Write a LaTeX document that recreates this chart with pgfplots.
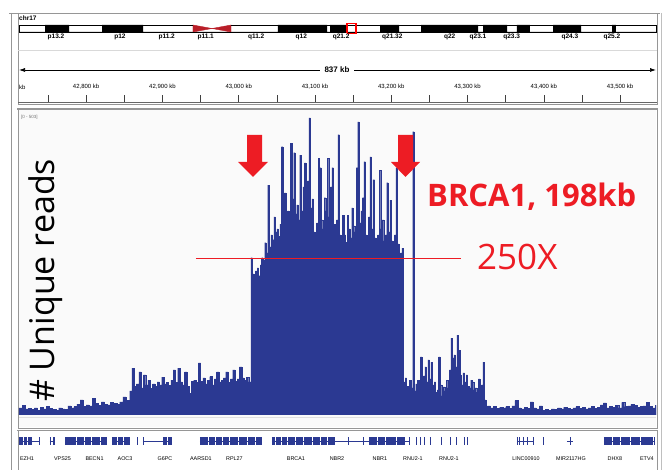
\documentclass[border=0pt]{standalone}
\usepackage{pgfplots}
\pgfplotsset{compat=1.18}
\usetikzlibrary{arrows.meta}
\usepackage{fontspec}
\setmainfont{Liberation Sans}
\newfontfamily\osans{Open Sans}
\definecolor{igvblue}{RGB}{43,57,146}
\definecolor{annred}{RGB}{237,28,36}
\definecolor{cenred}{RGB}{185,30,40}
\definecolor{framegray}{RGB}{150,150,150}
\tikzset{
  bandlab/.style={font=\bfseries\fontsize{6.5}{6.5}\selectfont, inner sep=0},
  rulelab/.style={font=\fontsize{6}{6}\selectfont, inner sep=0},
  genelab/.style={font=\fontsize{5.4}{5.4}\selectfont, inner sep=0},
}

\begin{document}
\begin{tikzpicture}[x=1pt,y=1pt]
\path[use as bounding box] (0,0) rectangle (665,470);

% ---- window frames
\fill[black!2] (18,360) rectangle (656,43);
\draw[framegray, line width=0.8pt] (9,457) -- (660,457);
\draw[framegray, line width=0.8pt] (11,457) -- (11,0);
\draw[framegray, line width=0.6pt] (18,457) -- (18,366) -- (657,366) -- (657,457);
\draw[black!15] (18,420) -- (657,420);
\draw[black!60, line width=0.6pt] (18,368) -- (657,368);
\draw[framegray, line width=1.4pt] (17,361) -- (658,361);
\draw[framegray, line width=0.6pt] (18,361) -- (18,42) -- (657,42) -- (657,361);
\draw[black!12] (19,53) -- (656,53);
\draw[framegray, line width=0.8pt] (17,40) -- (658,40);
\draw[framegray, line width=0.6pt] (18,40) -- (18,0);
\draw[framegray, line width=0.6pt] (657,40) -- (657,0);
\draw[black!25] (661,457) -- (661,0);

% ---- chromosome ideogram
\node[anchor=west, font=\bfseries\fontsize{6.5}{6.5}\selectfont, inner sep=0] at (19,451.5) {chr17};
\begin{axis}[at={(19pt,438pt)}, anchor=south west, width=637pt, height=7pt,
  scale only axis, xmin=0, xmax=83.26, ymin=0, ymax=1, hide axis, clip=false]
\addplot[const plot, fill=black, draw=none] coordinates {
(0,0) (3.40,1) (6.54,0) (10.85,1) (16.21,0) (33.85,1) (40.26,0) (40.65,1) (42.87,0)
(47.19,1) (49.67,0) (52.55,1) (60.00,0) (60.65,1) (63.79,0) (65.09,1) (66.79,0)
(69.80,1) (73.46,0) (77.51,1) (78.03,0) (83.26,0)} \closedcycle;
\addplot[fill=cenred, draw=cenred] coordinates {(22.74,0) (22.74,1) (25.23,0.5) (22.74,0)};
\addplot[fill=cenred, draw=cenred] coordinates {(27.71,0) (27.71,1) (25.23,0.5) (27.71,0)};
\addplot[black, line width=0.6pt] coordinates {(22.74,1) (0,1) (0,0) (83.26,0) (83.26,1) (27.71,1)};
\addplot[red, line width=1.2pt] coordinates {(42.87,-0.2) (42.87,1.2) (44.05,1.2) (44.05,-0.2) (42.87,-0.2)};
\foreach \p/\t in {4.84/p13.2, 13.2/p12, 19.3/p11.2, 24.4/p11.1, 31.0/q11.2, 36.9/q12,
  42.1/q21.2, 48.8/q21.32, 56.3/q22, 60.0/q23.1, 64.4/q23.3, 72.0/q24.3, 77.5/q25.2}
  {\edef\tmp{\noexpand\node[bandlab] at (axis cs:\p,-0.75) {\t};}\tmp}
\end{axis}

% ---- ruler
\draw[{Latex[length=6pt,width=4pt]}-{Latex[length=6pt,width=4pt]}, line width=0.7pt] (19,400) -- (656,400);
\node[fill=white, inner xsep=5pt, font=\bfseries\fontsize{8}{8}\selectfont] at (337,400) {837 kb};
\begin{axis}[at={(19pt,368pt)}, anchor=south west, width=637pt, height=9pt,
  scale only axis, xmin=42712, xmax=43547, ymin=0, ymax=1,
  axis x line*=bottom, axis y line=none, scaled x ticks=false,
  xtick={42750,42800,...,43500}, xticklabels={}, tick align=inside,
  major tick length=7pt, x axis line style={-, draw=none},
  xtick style={black!75, line width=0.7pt}, clip=false]
\foreach \p/\t in {42800/{42,800 kb}, 42900/{42,900 kb}, 43000/{43,000 kb}, 43100/{43,100 kb},
  43200/{43,200 kb}, 43300/{43,300 kb}, 43400/{43,400 kb}, 43500/{43,500 kb}}
  {\edef\tmp{\noexpand\node[rulelab] at (axis cs:\p,1.67) {\t};}\tmp}
\node[rulelab, anchor=west] at (axis cs:42712,1.67) {kb};
\end{axis}

% ---- coverage track
\node[anchor=west, font=\fontsize{4.5}{4.5}\selectfont, text=black!55, inner sep=0] at (21,353) {[0 - 503]};
\begin{axis}[at={(19pt,55pt)}, anchor=south west, width=637pt, height=302pt,
  scale only axis, xmin=42712, xmax=43547, ymin=0, ymax=503, hide axis, clip=true]
\addplot[const plot, fill=igvblue, draw=igvblue, line width=0.2pt] coordinates {
(42712,12) (42716,16) (42720,10) (42724,11) (42728,9) (42732,12) (42736,8) (42740,13)
(42744,10) (42748,14) (42752,11) (42756,9) (42760,8) (42764,12) (42768,10) (42772,9)
(42776,15) (42780,12) (42784,14) (42788,18) (42792,25) (42796,14) (42800,17) (42804,15)
(42808,28) (42812,19) (42816,16) (42820,22) (42824,18) (42828,17) (42832,21) (42836,19)
(42840,18) (42844,22) (42848,30) (42852,24) (42856,22)
(42857,40) (42860,78) (42863,48) (42866,52) (42869,72) (42872,45) (42875,67) (42878,50)
(42881,58) (42884,44) (42887,52) (42890,48) (42893,55) (42896,50) (42899,63) (42902,52)
(42905,54) (42908,49) (42911,58) (42914,75) (42917,54) (42920,78) (42923,55) (42926,50)
(42929,72) (42932,48) (42935,36) (42938,56) (42941,58) (42944,54) (42947,87) (42950,56)
(42953,62) (42956,52) (42959,58) (42962,64) (42965,50) (42968,60) (42971,72) (42974,55)
(42977,58) (42980,62) (42983,72) (42986,54) (42989,60) (42992,75) (42995,56) (42998,60)
(43001,80) (43004,62) (43007,58) (43010,63) (43013,55)
(43016,262) (43018,235) (43020,222) (43022,240) (43024,245) (43026,232) (43028,250) (43030,262)
(43032,258) (43034,287) (43036,270) (43038,383) (43040,280) (43042,300) (43044,292) (43046,330)
(43048,305) (43050,310) (43052,298) (43054,318) (43056,447) (43058,322) (43060,370) (43062,330)
(43064,340) (43066,318) (43068,453) (43070,360) (43072,437) (43074,335) (43076,350) (43078,325)
(43080,433) (43082,340) (43084,380) (43086,420) (43088,335) (43090,390) (43092,495) (43094,345)
(43096,360) (43098,305) (43100,275) (43102,320) (43104,428) (43106,412) (43108,325) (43110,310)
(43112,362) (43114,340) (43116,428) (43118,330) (43120,380) (43122,412) (43124,318) (43126,283)
(43128,325) (43130,467) (43132,300) (43134,270) (43136,333) (43138,300) (43140,288) (43142,333)
(43144,310) (43146,295) (43148,345) (43150,315) (43152,305) (43154,412) (43156,488) (43158,320)
(43160,340) (43162,362) (43164,422) (43166,300) (43168,262) (43170,330) (43172,430) (43174,310)
(43176,392) (43178,295) (43180,237) (43182,300) (43184,408) (43186,310) (43188,325) (43190,290)
(43192,300) (43194,387) (43196,305) (43198,358) (43200,290) (43202,278) (43204,300) (43206,412)
(43208,285) (43210,247) (43212,270) (43214,278)
(43216,55) (43218,62) (43220,48) (43222,35) (43224,58) (43226,45) (43228,472) (43230,40)
(43232,52) (43234,58) (43236,48) (43238,97) (43240,62) (43242,65) (43244,80) (43246,55)
(43248,92) (43250,60) (43252,88) (43254,50) (43256,55) (43258,38) (43260,42) (43262,97)
(43264,50) (43266,32) (43268,47) (43270,40) (43272,58) (43274,45) (43276,75) (43278,128)
(43280,95) (43282,100) (43284,80) (43286,133) (43288,108) (43290,67) (43292,50) (43294,70)
(43296,55) (43298,67) (43300,48) (43302,45) (43304,58) (43306,55) (43308,42) (43310,45)
(43312,38) (43314,60) (43316,48) (43318,50) (43320,88) (43322,25) (43324,13)
(43326,15) (43330,12) (43334,14) (43338,11) (43342,13) (43346,12) (43350,14) (43354,11)
(43358,15) (43362,24) (43366,12) (43370,10) (43374,13) (43378,11) (43382,22) (43386,12)
(43390,10) (43394,15) (43398,8) (43402,9) (43406,8) (43410,10) (43414,9) (43418,12)
(43422,10) (43426,13) (43430,11) (43434,9) (43438,12) (43442,14) (43446,11) (43450,13)
(43454,10) (43458,12) (43462,14) (43466,11) (43470,13) (43474,17) (43478,20) (43482,12)
(43486,14) (43490,13) (43494,16) (43498,12) (43502,21) (43506,14) (43510,15) (43514,18)
(43518,16) (43522,13) (43526,14) (43530,15) (43534,21) (43538,14) (43542,12) (43546,16)
(43547,16)} \closedcycle;
\addplot[annred, line width=1.1pt] coordinates {(42944,260) (43292,260)};
\end{axis}

% ---- annotations
\fill[annred] (247,335) -- (262,335) -- (262,308) -- (268,308) -- (253,293) -- (238,308) -- (247,308) -- cycle;
\fill[annred] (398,335) -- (413,335) -- (413,308) -- (420,308) -- (405.5,293) -- (391,308) -- (398,308) -- cycle;
\node[anchor=base west, inner sep=0, text=annred, font=\osans\bfseries\fontsize{31}{31}\selectfont] at (427,263) {BRCA1, 198kb};
\node[anchor=base west, inner sep=0, text=annred, font=\osans\fontsize{35}{35}\selectfont] at (477,200) {250X};
\node[rotate=90, anchor=base west, inner sep=0, font=\osans\fontsize{34}{34}\selectfont] at (54,68) {\# Unique reads};

% ---- gene track
\begin{axis}[at={(19pt,25pt)}, anchor=south west, width=637pt, height=8pt,
  scale only axis, xmin=42712, xmax=43547, ymin=0, ymax=1, hide axis, clip=false]
% introns
\addplot[igvblue, line width=0.8pt, unbounded coords=jump] coordinates {
(42712,0.5) (42739.5,0.5) (42739.5,nan)
(42752.6,0.5) (42759.2,0.5) (42759.2,nan)
(42772.3,0.5) (42827.3,0.5) (42827.3,nan)
(42833.9,0.5) (42857.5,0.5) (42857.5,nan)
(42874.5,0.5) (42912.5,0.5) (42912.5,nan)
(42949.2,0.5) (43030.5,0.5) (43030.5,nan)
(43043.6,0.5) (43224.4,0.5) (43224.4,nan)
(43364.7,0.5) (43386.9,0.5) (43386.9,nan)
(43430.2,0.5) (43438.1,0.5) (43438.1,nan)
(43478.7,0.5) (43545.6,0.5)};
% exons
\addplot[igvblue, line width=8pt, unbounded coords=jump] coordinates {
(42712,0.5) (42717.2,0.5) (42717.2,nan) (42718.6,0.5) (42722.5,0.5) (42722.5,nan)
(42723.8,0.5) (42729,0.5) (42729,nan) (42738.2,0.5) (42739.5,0.5) (42739.5,nan)
(42752.6,0.5) (42753.9,0.5) (42753.9,nan) (42756.6,0.5) (42759.2,0.5) (42759.2,nan)
(42772.3,0.5) (42786.7,0.5) (42786.7,nan) (42788,0.5) (42797.2,0.5) (42797.2,nan)
(42798.5,0.5) (42806.4,0.5) (42806.4,nan) (42807.7,0.5) (42818.2,0.5) (42818.2,nan)
(42819.5,0.5) (42827.3,0.5) (42827.3,nan)
(42833.9,0.5) (42840.4,0.5) (42840.4,nan) (42841.7,0.5) (42848.3,0.5) (42848.3,nan)
(42849.6,0.5) (42857.5,0.5) (42857.5,nan) (42866.7,0.5) (42868,0.5) (42868,nan)
(42874.5,0.5) (42875.8,0.5) (42875.8,nan) (42900.7,0.5) (42906,0.5) (42906,nan)
(42907.3,0.5) (42912.5,0.5) (42912.5,nan)
(42949.2,0.5) (42959.7,0.5) (42959.7,nan) (42961,0.5) (42968.9,0.5) (42968.9,nan)
(42970.2,0.5) (42978.1,0.5) (42978.1,nan) (42979.4,0.5) (42987.2,0.5) (42987.2,nan)
(42988.5,0.5) (42999,0.5) (42999,nan) (43000.3,0.5) (43010.8,0.5) (43010.8,nan)
(43012.1,0.5) (43021.3,0.5) (43021.3,nan) (43022.6,0.5) (43030.5,0.5) (43030.5,nan)
(43043.6,0.5) (43047.5,0.5) (43047.5,nan) (43048.8,0.5) (43055.4,0.5) (43055.4,nan)
(43056.7,0.5) (43063.2,0.5) (43063.2,nan) (43064.5,0.5) (43073.7,0.5) (43073.7,nan)
(43075,0.5) (43084.2,0.5) (43084.2,nan) (43085.5,0.5) (43096,0.5) (43096,nan)
(43097.3,0.5) (43106.5,0.5) (43106.5,nan) (43107.8,0.5) (43115.7,0.5) (43115.7,nan)
(43117,0.5) (43126.1,0.5) (43126.1,nan) (43143.2,0.5) (43144.6,0.5) (43144.6,nan)
(43162.9,0.5) (43164.2,0.5) (43164.2,nan)
(43170.7,0.5) (43181.2,0.5) (43181.2,nan) (43182.5,0.5) (43191.7,0.5) (43191.7,nan)
(43193,0.5) (43206.1,0.5) (43206.1,nan) (43207.4,0.5) (43217.9,0.5) (43217.9,nan)
(43223.1,0.5) (43224.4,0.5) (43224.4,nan)
(43232.3,0.5) (43233.6,0.5) (43233.6,nan) (43237.6,0.5) (43238.9,0.5) (43238.9,nan)
(43242.8,0.5) (43244.1,0.5) (43244.1,nan) (43250.7,0.5) (43252,0.5) (43252,nan)
(43265.1,0.5) (43266.4,0.5) (43266.4,nan) (43276.9,0.5) (43278.2,0.5) (43278.2,nan)
(43284.7,0.5) (43286,0.5) (43286,nan) (43295.2,0.5) (43296.5,0.5) (43296.5,nan)
(43299.2,0.5) (43300.5,0.5) (43300.5,nan)
(43364.7,0.5) (43366,0.5) (43366,nan) (43368,0.5) (43369.3,0.5) (43369.3,nan)
(43372.6,0.5) (43373.9,0.5) (43373.9,nan) (43377.8,0.5) (43379.1,0.5) (43379.1,nan)
(43385.6,0.5) (43386.9,0.5) (43386.9,nan) (43398.8,0.5) (43400.1,0.5) (43400.1,nan)
(43434.2,0.5) (43435.5,0.5) (43435.5,nan)
(43478.7,0.5) (43489.2,0.5) (43489.2,nan) (43490.5,0.5) (43499.7,0.5) (43499.7,nan)
(43501,0.5) (43512.8,0.5) (43512.8,nan) (43514.1,0.5) (43525.9,0.5) (43525.9,nan)
(43527.2,0.5) (43543,0.5) (43543,nan) (43544.3,0.5) (43545.6,0.5)};
\foreach \p/\t in {42722.5/EZH1, 42769/VPS25, 42811/BECN1, 42851/AOC3, 42903.3/G6PC,
  42950.5/AARSD1, 42994.4/RPL27, 43075/BRCA1, 43128.8/NBR2, 43185.1/NBR1, 43228.4/RNU2-1,
  43275.6/RNU2-1, 43376.5/LINC00910, 43435.5/MIR2117HG, 43493.1/DHX8, 43535/ETV4}
  {\edef\tmp{\noexpand\node[genelab] at (axis cs:\p,-1.7) {\t};}\tmp}
\end{axis}
\end{tikzpicture}
\end{document}
